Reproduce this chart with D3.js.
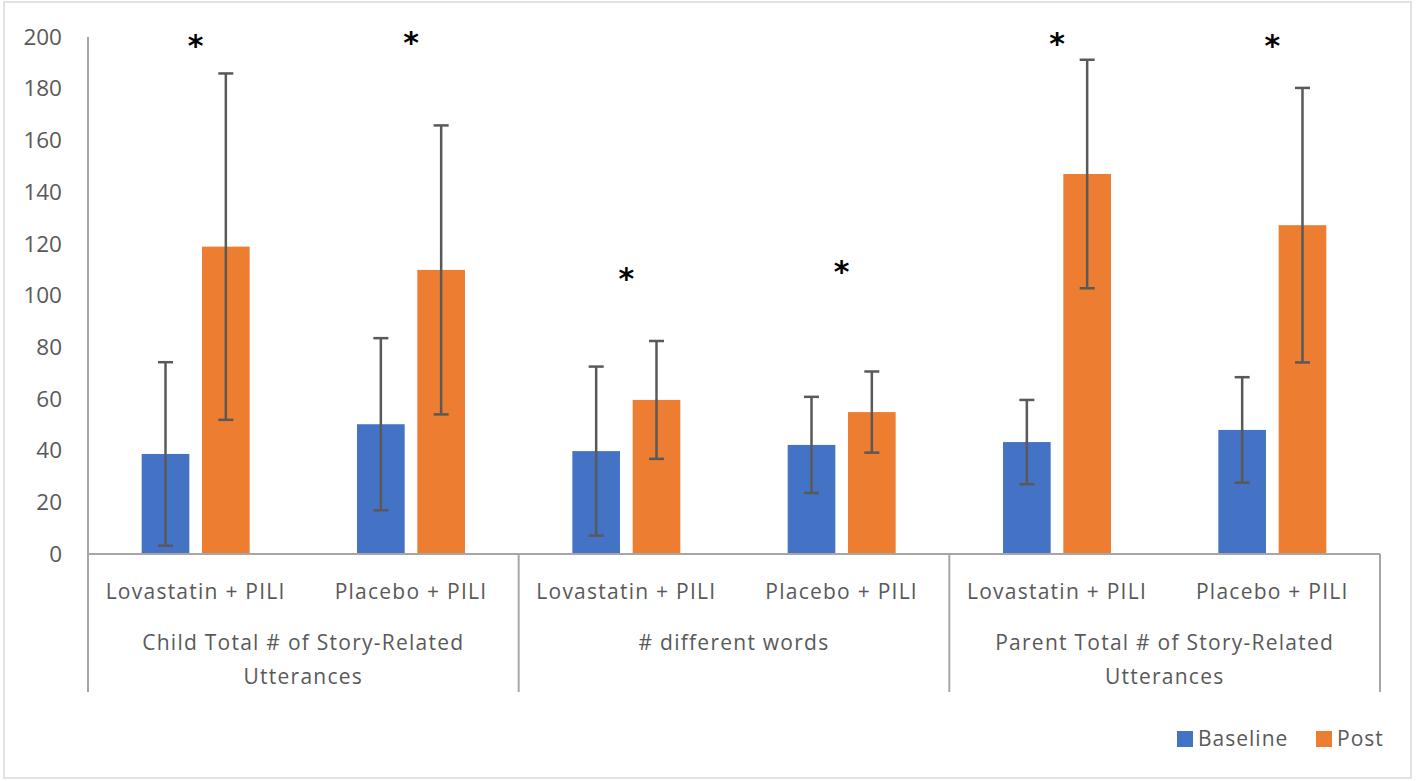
<!DOCTYPE html>
<html>
<head>
<meta charset="utf-8">
<script src="https://cdn.jsdelivr.net/npm/d3@7"></script>
<style>
  html, body { margin: 0; padding: 0; background: #fff; }
  svg { display: block; }
  text { font-family: "Open Sans", "Liberation Sans", sans-serif; }
</style>
</head>
<body>
<svg id="chart" width="1418" height="781"></svg>
<script>
// ---- data ----
const groupLabels = [
  ["Child Total # of Story-Related", "Utterances"],
  ["# different words"],
  ["Parent Total # of Story-Related", "Utterances"]
];
const subLabels = ["Lovastatin + PILI", "Placebo + PILI"];
const seriesNames = ["Baseline", "Post"];
const baselineMean = [38.7, 50.2, 39.8, 42.2, 43.3, 48.0];
const baselineSD   = [35.5, 33.3, 32.7, 18.6, 16.3, 20.4];
const postMean     = [118.9, 109.9, 59.6, 54.9, 147.0, 127.2];
const postSD       = [67.0, 55.9, 22.8, 15.7, 44.2, 53.1];
const starValues   = [197.8, 199.1, 107.9, 110.5, 198.8, 197.8];
const yTicks = [0, 20, 40, 60, 80, 100, 120, 140, 160, 180, 200];

// ---- layout ----
const colors = { Baseline: "#4472C4", Post: "#ED7D31" };
const axisColor = "#a6a6a6";
const textColor = "#595959";
const plotLeft = 88, plotRight = 1380, plotTop = 37, plotBase = 554, axisBottom = 692;
const labelSpacing = "1.25px";

const svg = d3.select("#chart");

svg.append("rect")
  .attr("x", 4).attr("y", 2).attr("width", 1407).attr("height", 776)
  .attr("fill", "#fff").attr("stroke", "#d9d9d9").attr("stroke-width", 1.5);

// scales
const cats = [];
groupLabels.forEach((g, gi) => subLabels.forEach((s, si) => cats.push(gi + "|" + si)));
const xGroup = d3.scaleBand().domain(groupLabels.map((d, i) => i)).range([plotLeft, plotRight]);
const x0 = d3.scaleBand().domain(cats).range([plotLeft, plotRight]);
const x1 = d3.scaleBand().domain(seriesNames).range([0, x0.bandwidth()])
  .paddingInner(0.21).paddingOuter(0.89);
const y = d3.scaleLinear().domain([0, 200]).range([plotBase, plotTop]);

// y axis labels
const yAxis = d3.axisLeft(y).tickValues(yTicks).tickSize(0).tickPadding(26);
const gy = svg.append("g").attr("transform", `translate(${plotLeft},0)`).call(yAxis);
gy.select(".domain").remove();
gy.selectAll("text").attr("fill", textColor).style("font-size", "22.5px")
  .style("font-family", "'Open Sans', sans-serif");

// data rows
const rows = cats.map((c, i) => ({
  key: c,
  values: [
    { s: "Baseline", v: baselineMean[i], e: baselineSD[i] },
    { s: "Post", v: postMean[i], e: postSD[i] }
  ]
}));

const cg = svg.selectAll("g.cat").data(rows).join("g")
  .attr("class", "cat")
  .attr("transform", d => `translate(${x0(d.key)},0)`);

cg.selectAll("rect").data(d => d.values).join("rect")
  .attr("x", d => x1(d.s)).attr("width", x1.bandwidth())
  .attr("y", d => y(d.v)).attr("height", d => y(0) - y(d.v))
  .attr("fill", d => colors[d.s]);

// axis lines
svg.append("line").attr("x1", plotLeft).attr("x2", plotLeft).attr("y1", plotTop).attr("y2", axisBottom)
  .attr("stroke", axisColor).attr("stroke-width", 2);
svg.append("line").attr("x1", plotLeft).attr("x2", plotRight).attr("y1", plotBase).attr("y2", plotBase)
  .attr("stroke", axisColor).attr("stroke-width", 2);
svg.selectAll("line.div").data(groupLabels.map((d, i) => i).slice(1).concat(["end"])).join("line")
  .attr("class", "div")
  .attr("x1", d => d === "end" ? plotRight : xGroup(d))
  .attr("x2", d => d === "end" ? plotRight : xGroup(d))
  .attr("y1", plotBase).attr("y2", axisBottom)
  .attr("stroke", axisColor).attr("stroke-width", 2);

// error bars
const eb = cg.selectAll("g.err").data(d => d.values).join("g").attr("class", "err")
  .attr("transform", d => `translate(${x1(d.s) + x1.bandwidth() / 2},0)`);
const errColor = "#595959", capW = 7.5;
eb.append("line").attr("x1", 0).attr("x2", 0)
  .attr("y1", d => y(d.v - d.e)).attr("y2", d => y(d.v + d.e))
  .attr("stroke", errColor).attr("stroke-width", 2.5);
eb.append("line").attr("x1", -capW).attr("x2", capW)
  .attr("y1", d => y(d.v + d.e)).attr("y2", d => y(d.v + d.e))
  .attr("stroke", errColor).attr("stroke-width", 2.5);
eb.append("line").attr("x1", -capW).attr("x2", capW)
  .attr("y1", d => y(d.v - d.e)).attr("y2", d => y(d.v - d.e))
  .attr("stroke", errColor).attr("stroke-width", 2.5);

// significance stars
const starSize = 30;
svg.selectAll("text.star").data(cats).join("text")
  .attr("class", "star")
  .attr("x", (d) => x0(d) + x0.bandwidth() / 2)
  .attr("y", (d, i) => y(starValues[i]) + starSize * 0.45)
  .attr("text-anchor", "middle")
  .style("font-family", "'DejaVu Sans', sans-serif")
  .style("font-weight", "bold")
  .style("font-size", starSize + "px")
  .attr("fill", "#000")
  .text("*");

// sub-category labels
svg.selectAll("text.sub").data(cats).join("text")
  .attr("class", "sub")
  .attr("x", d => x0(d) + x0.bandwidth() / 2)
  .attr("y", 592)
  .attr("dy", "0.35em")
  .attr("text-anchor", "middle")
  .attr("fill", textColor)
  .style("font-size", "21px")
  .style("letter-spacing", labelSpacing)
  .text(d => subLabels[+d.split("|")[1]]);

// group labels
const gl = svg.selectAll("text.grp").data(groupLabels).join("text")
  .attr("class", "grp")
  .attr("text-anchor", "middle")
  .attr("fill", textColor)
  .style("font-size", "21px")
  .style("letter-spacing", labelSpacing);
gl.selectAll("tspan").data((d, i) => d.map(t => ({ t, i }))).join("tspan")
  .attr("x", d => xGroup(d.i) + xGroup.bandwidth() / 2)
  .attr("y", (d, j) => 643 + j * 33.5)
  .attr("dy", "0.35em")
  .text(d => d.t);

// legend
const legendX = { Baseline: 1177, Post: 1316 };
const lg = svg.selectAll("g.legend").data(seriesNames).join("g")
  .attr("class", "legend")
  .attr("transform", d => `translate(${legendX[d]},739)`);
lg.append("rect").attr("x", 0).attr("y", -8).attr("width", 16).attr("height", 16)
  .attr("fill", d => colors[d]);
lg.append("text").attr("x", 21).attr("y", 0).attr("dy", "0.35em")
  .attr("fill", textColor).style("font-size", "21px").style("letter-spacing", "1px")
  .text(d => d);
</script>
</body>
</html>
